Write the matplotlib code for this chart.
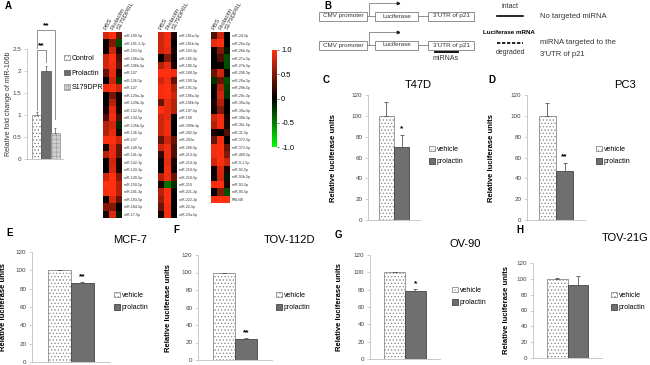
import numpy as np
import matplotlib.pyplot as plt
from matplotlib.colors import LinearSegmentedColormap
from matplotlib.patches import Rectangle

plt.rcParams['font.family'] = ['Liberation Sans', 'DejaVu Sans']
plt.rcParams['hatch.linewidth'] = 0.4

# ---- data ----
groupsA = ['Control', 'Prolactin', 'S179DPRL']
foldA = [1.0, 2.0, 0.58]
errA = [0.06, 0.12, 0.12]

heat_cols = ['PBS', 'Prolactin', 'S179DPRL']
mirs1 = ['miR-100-5p', 'miR-101-1-3p', 'miR-103-5p', 'miR-106a-5p', 'miR-106b-5p',
         'miR-107', 'miR-126-5p', 'miR-127', 'miR-129a-3p', 'miR-129b-3p',
         'miR-132-5p', 'miR-134-5p', 'miR-135b-5p', 'miR-136-5p', 'miR-137',
         'miR-140-5p', 'miR-141-3p', 'miR-142-3p', 'miR-143-3p', 'miR-149-5p',
         'miR-150-5p', 'miR-181-3p', 'miR-183-5p', 'miR-184-5p', 'miR-17-5p']
heat1 = [[0.85, 1.0, 0.4], [0.05, 0.5, -0.3], [0.05, 0.8, 0.1], [0.8, 1.0, 0.3],
         [0.8, 0.95, 0.4], [0.4, 0.9, 0.1], [0.0, 0.8, -0.2], [0.95, 1.0, 0.8],
         [0.0, 0.45, 0.05], [0.0, 0.7, 0.05], [0.1, 0.9, 0.1], [0.3, 0.95, 0.3],
         [0.7, 0.8, -0.15], [0.7, 0.9, 0.1], [1.0, 1.0, 0.8], [0.1, 0.9, 0.4],
         [0.7, 0.9, 0.4], [0.0, 0.8, 0.1], [0.0, 0.85, 0.1], [0.8, 1.0, 0.5],
         [1.0, 1.0, 0.7], [0.95, 1.0, 0.7], [0.0, 0.85, 0.4], [0.5, 0.5, 0.0],
         [0.1, 0.85, -0.1]]
mirs2 = ['miR-181a-5p', 'miR-181b-5p', 'miR-183-5p', 'miR-185-5p', 'miR-186-5p',
         'miR-188-5p', 'miR-190-5p', 'miR-191-5p', 'miR-196a-5p', 'miR-196b-5p',
         'miR-197-5p', 'miR-198', 'miR-200b-3p', 'miR-202-5p', 'miR-203a',
         'miR-206-5p', 'miR-213-5p', 'miR-214-3p', 'miR-218-5p', 'miR-218-5p',
         'miR-219', 'miR-221-3p', 'miR-222-3p', 'miR-22-5p', 'miR-23a-5p']
heat2 = [[0.8, 0.95, 0.1], [0.8, 0.95, 0.0], [0.8, 0.9, 0.1], [0.0, 0.5, 0.05],
         [0.7, 0.9, 0.1], [1.0, 1.0, 0.95], [0.8, 0.95, 0.4], [0.95, 1.0, 0.7],
         [0.95, 1.0, 0.8], [0.4, 0.9, 0.7], [1.0, 0.9, 0.7], [0.8, 0.9, 0.0],
         [0.8, 0.95, 0.0], [0.8, 0.95, 0.0], [0.4, 0.8, 0.4], [0.8, 0.95, 0.3],
         [0.2, 0.95, 0.3], [0.05, 0.9, 0.1], [0.0, 0.95, 0.05], [0.7, 0.95, 0.4],
         [0.1, -0.45, -0.2], [0.7, 1.0, 0.0], [0.6, 1.0, 0.0], [0.4, 0.95, 0.0],
         [0.1, 0.95, 0.0]]
mirs3 = ['miR-24-5p', 'miR-26a-5p', 'miR-26b-5p', 'miR-27a-5p', 'miR-27b-5p',
         'miR-296-5p', 'miR-29a-5p', 'miR-29b-5p', 'miR-29c-3p', 'miR-30a-5p',
         'miR-30a-5p', 'miR-30b-5p', 'miR-30c-5p', 'miR-31-5p', 'miR-372-5p',
         'miR-373-5p', 'miR-409-5p', 'miR-9-1-5p', 'miR-92-5p', 'miR-92b-5p',
         'miR-93-5p', 'miR-95-5p', 'RNU48']
heat3 = [[0.3, 0.8, 0.0], [0.9, 1.0, 0.0], [0.05, 0.5, -0.1], [0.0, 0.3, -0.3],
         [0.0, 0.05, -0.3], [0.4, 0.8, 0.05], [-0.2, 0.4, -0.3], [0.05, 0.7, -0.25],
         [0.0, 0.8, -0.2], [0.1, 0.7, 0.0], [0.05, 0.5, 0.0], [0.8, 0.95, 0.1],
         [0.7, 0.95, 0.1], [0.1, 0.0, 0.3], [0.4, 0.95, 0.0], [0.95, 1.0, 0.4],
         [0.95, 1.0, 0.5], [0.8, 1.0, 0.8], [0.05, 0.85, 0.1], [0.05, 0.8, -0.1],
         [0.95, 1.0, 0.1], [0.0, 0.5, -0.3], [1.0, 1.0, 1.0]]

cells = ['T47D', 'PC3', 'MCF-7', 'TOV-112D', 'OV-90', 'TOV-21G']
vehicle = [100, 100, 100, 100, 100, 100]
vehicle_err = [13, 12, 0, 0, 0, 0.5]
prolactin = [70, 47, 86, 24, 79, 92]
prolactin_err = [12, 8, 1, 1.5, 1.5, 12]
stars = ['*', '**', '**', '**', '*', '']

W, H = 650, 365
fig = plt.figure(figsize=(6.5, 3.65), dpi=100)


def px_axes(x0, y0, x1, y1):
    return fig.add_axes([x0 / W, 1 - y1 / H, (x1 - x0) / W, (y1 - y0) / H])


def style_axes(ax):
    for s in ['top', 'right']:
        ax.spines[s].set_visible(False)
    for s in ['left', 'bottom']:
        ax.spines[s].set_color('#bfbfbf')
        ax.spines[s].set_linewidth(0.6)
    ax.set_xticks([])
    ax.tick_params(axis='y', labelsize=4.5, length=2, width=0.5, color='#bfbfbf',
                   pad=2, labelcolor='#404040')


# ---- panel A: bar chart ----
axA = px_axes(27, 49, 63, 159)
xA = np.arange(len(foldA))
axA.bar(xA[0], foldA[0], width=1, color='white', edgecolor='#aaaaaa', hatch='.....', lw=0)
axA.bar(xA[0], foldA[0], width=1, fill=False, edgecolor='#808080', lw=0.5, label=groupsA[0],
        hatch='.....')
axA.bar(xA[1], foldA[1], width=1, color='#6d6d6d', edgecolor='#505050', lw=0.5, label=groupsA[1])
axA.bar(xA[2], foldA[2], width=1, color='#cfcfcf', edgecolor='#999999', hatch='++++', lw=0.5,
        label=groupsA[2])
axA.errorbar(xA, foldA, yerr=[np.zeros(3), errA], fmt='none', ecolor='#555555',
             elinewidth=0.5, capsize=1, capthick=0.5)
axA.set_xlim(-1.05, 2.85)
axA.set_ylim(0, 2.5)
axA.set_yticks([0, 0.5, 1, 1.5, 2, 2.5])
axA.set_yticklabels(['0', '0.5', '1', '1.5', '2', '2.5'])
style_axes(axA)
axA.set_ylabel('Relative fold change of miR-106b', fontsize=5, color='#333333')
axA.yaxis.set_label_coords((12 - 27) / 36, 0.5)
# significance brackets
axA.plot([0, 0, 2, 2], [2.52, 2.93, 2.93, 0.9], color='#808080', lw=0.6, clip_on=False)
axA.plot([0, 0, 1, 1], [1.12, 2.48, 2.48, 2.2], color='#808080', lw=0.6, clip_on=False)
axA.text(1, 2.95, '**', ha='center', va='bottom', fontsize=6, fontweight='bold')
axA.text(0.5, 2.5, '**', ha='center', va='bottom', fontsize=6, fontweight='bold')
axA.legend(loc='upper left', bbox_to_anchor=(64 / W, 1 - 55 / H), bbox_transform=fig.transFigure,
           fontsize=5, frameon=False, handlelength=0.8, handleheight=0.8, handletextpad=0.3,
           labelspacing=1.1, borderpad=0, borderaxespad=0)

# ---- heatmaps ----
cmap = LinearSegmentedColormap.from_list('gkr', ['#00ff00', '#000000', '#ff3010'])


def heat(box, data, names):
    ax = px_axes(*box)
    im = ax.imshow(np.array(data), cmap=cmap, vmin=-1, vmax=1, aspect='auto',
                   interpolation='nearest')
    ax.set_xticks([])
    ax.yaxis.tick_right()
    ax.set_yticks(range(len(names)))
    ax.set_yticklabels(names, fontsize=2.6, color='#333333')
    ax.tick_params(axis='y', length=0, pad=1.5)
    for s in ax.spines.values():
        s.set_visible(False)
    for j, c in enumerate(heat_cols):
        ax.text(j - 0.1, -0.9, c, rotation=62, rotation_mode='anchor', ha='left', va='center',
                fontsize=4.5, color='#333333')
    return im


im = heat((103, 32, 122, 218), heat1, mirs1)
heat((158, 32, 177, 218), heat2, mirs2)
heat((211, 32, 230, 203), heat3, mirs3)

cax = px_axes(272, 50, 277, 147)
cb = fig.colorbar(im, cax=cax, ticks=[-1, -0.5, 0, 0.5, 1])
cb.ax.set_yticklabels(['-1.0', '-0.5', '0', '0.5', '1.0'])
cb.outline.set_visible(False)
cb.ax.tick_params(labelsize=5.5, length=1.5, width=0.4, pad=1.5)

# ---- luciferase panels C-H ----
boxes = [(368, 95, 420, 220), (527, 95, 585, 220), (32, 252, 110, 362),
         (198, 255, 272, 360), (370, 255, 440, 359), (533, 263, 602, 358)]
label_x = [337, 495, 7, 172, 343, 510]
legend_xy = [(429, 146), (596, 146), (114, 292), (276, 292), (452, 287), (611, 292)]
titles_xy = [(418, 85), (625, 85), (130, 240), (289, 240), (465, 244), (625, 238)]

for i in range(len(cells)):
    x0, y0, x1, y1 = boxes[i]
    ax = px_axes(x0, y0, x1, y1)
    ax.bar(0, vehicle[i], width=1, color='white', edgecolor='#b0b0b0', hatch='.....', lw=0)
    ax.bar(0, vehicle[i], width=1, fill=False, edgecolor='#8c8c8c', lw=0.6,
           hatch='.....', label='vehicle')
    ax.bar(1, prolactin[i], width=1, color='#6f6f6f', edgecolor='#454545', lw=0.6,
           label='prolactin')
    ax.errorbar([0, 1], [vehicle[i], prolactin[i]],
                yerr=[[0, 0], [vehicle_err[i], prolactin_err[i]]], fmt='none',
                ecolor='#555555', elinewidth=0.6, capsize=1.2, capthick=0.6)
    if stars[i]:
        ax.text(1, prolactin[i] + prolactin_err[i] + 2, stars[i], ha='center', va='bottom',
                fontsize=6, fontweight='bold')
    ax.set_xlim(-1.2, 2.2)
    ax.set_ylim(0, 120)
    ax.set_yticks(range(0, 121, 20))
    style_axes(ax)
    ax.set_ylabel('Relative luciferase units', fontsize=5.5, fontweight='bold')
    ax.yaxis.set_label_coords((label_x[i] - x0) / (x1 - x0), 0.5)
    lx, ly = legend_xy[i]
    ax.legend(loc='upper left', bbox_to_anchor=(lx / W, 1 - ly / H),
              bbox_transform=fig.transFigure, fontsize=5, frameon=False, handlelength=0.8,
              handleheight=0.8, handletextpad=0.3, labelspacing=0.75, borderpad=0,
              borderaxespad=0)

# ---- overlay: letters, titles, panel B diagram ----
ov = fig.add_axes([0, 0, 1, 1])
ov.set_xlim(0, W)
ov.set_ylim(H, 0)
ov.axis('off')

letters = ['A', 'B', 'C', 'D', 'E', 'F', 'G', 'H']
letters_xy = [(5, 6), (324, 6), (323, 80), (488, 80), (6, 233), (173, 230), (335, 235), (516, 230)]
for t, (x, y) in zip(letters, letters_xy):
    ov.text(x, y, t, fontsize=7, fontweight='bold', ha='left', va='center')

for t, (x, y) in zip(cells, titles_xy):
    ov.text(x, y, t, fontsize=8, ha='center', va='center')


def dbox(x0, x1, yc, text):
    ov.add_patch(Rectangle((x0, yc - 4.5), x1 - x0, 9, fill=False, ec='#7f7f7f', lw=0.6))
    ov.text((x0 + x1) / 2, yc, text, fontsize=4.5, ha='center', va='center', color='#333333')


for yc in [16, 45]:
    dbox(319, 367, yc, 'CMV promoter')
    dbox(375, 418, yc, 'Luciferase')
    dbox(428, 474, yc, "3'UTR of p21")
    ov.plot([367, 375], [yc, yc], color='#7f7f7f', lw=0.6)
    ov.plot([418, 428], [yc, yc], color='#7f7f7f', lw=0.6)
    ov.plot([369, 369, 397], [yc, yc - 13, yc - 13], color='#7f7f7f', lw=0.6)
    ov.plot([398], [yc - 13], marker='>', ms=1.8, color='#222222')

ov.plot([435, 458], [52, 52], color='black', lw=1.3)
ov.text(446, 58, 'miRNAs', fontsize=5, ha='center', va='center', color='#333333')
ov.text(510, 7, 'intact', fontsize=5, ha='center', va='center', color='#333333')
ov.plot([497, 523], [16, 16], color='black', lw=1.2)
ov.text(540, 16, 'No targeted miRNA', fontsize=5.5, ha='left', va='center', color='#333333')
ov.text(483, 32, 'Luciferase mRNA', fontsize=4.5, fontweight='bold', ha='left', va='center')
ov.plot([497, 523], [43, 43], color='black', lw=1.2, ls=(0, (2, 1)))
ov.text(510, 52, 'degraded', fontsize=5, ha='center', va='center', color='#333333')
ov.text(540, 43, 'miRNA targeted to the', fontsize=5.5, ha='left', va='center', color='#333333')
ov.text(540, 54, "3'UTR of p21", fontsize=5.5, ha='left', va='center', color='#333333')

fig.savefig('out.png', dpi=100)
